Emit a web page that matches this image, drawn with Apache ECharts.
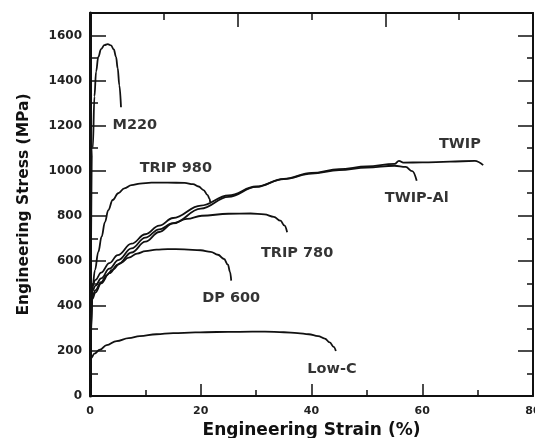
<!DOCTYPE html>
<html>
<head>
<meta charset="utf-8">
<script src="https://cdn.jsdelivr.net/npm/echarts@6/dist/echarts.min.js"></script>
<style>
  html, body { margin: 0; padding: 0; background: #fff; }
  #chart { width: 535px; height: 438px; }
</style>
</head>
<body>
<div id="chart"></div>
<script>
// Engineering stress-strain curves, [strain %, stress MPa]
const m220 = [[0,0],[0.5,1100],[0.8,1330],[1.1,1440],[1.5,1505],[2.0,1540],[2.6,1557],[3.2,1562],[3.8,1556],[4.3,1538],[4.7,1505],[5.0,1455],[5.3,1380],[5.6,1282]];
const trip980 = [[0,0],[0.4,470],[0.9,559],[1.5,640],[2.1,707],[2.7,772],[3.3,825],[4.1,870],[5.1,900],[6.2,922],[7.5,936],[9.0,943],[11.1,947],[14,947],[17.1,946],[18.6,940],[19.6,930],[20.5,914],[21.2,893],[21.6,875],[21.7,860]];
const twip = [[0,0],[0.4,430],[1,460],[2,500],[3.5,545],[5,583],[7.5,637],[10,685],[12.5,728],[15,766],[20,832],[25,884],[30,928],[35,964],[40,990],[45,1007],[50,1019],[55,1030],[55.8,1044],[56.6,1036],[60,1037],[65,1040],[69.5,1044],[71,1025]];
const twipAl = [[0,0],[0.4,490],[1,515],[2,548],[3.5,590],[5,625],[7.5,676],[10,718],[12.5,756],[15,790],[20,845],[25,890],[30,930],[35,963],[40,987],[45,1003],[50,1014],[55,1022],[57,1017],[58.2,998],[59,955]];
const trip780 = [[0,0],[0.4,465],[1,490],[2,522],[3.5,565],[5.1,603],[7.5,655],[10,703],[12.5,740],[15,767],[17.5,786],[20.2,800],[25,809],[29,810],[31.5,806],[33.2,795],[34.4,778],[35.1,757],[35.6,727]];
const dp600 = [[0,0],[0.4,445],[1,470],[2,505],[3,535],[4,560],[5.5,590],[7,614],[8.5,632],[10,643],[12,650],[14,652],[17,651],[20,647],[21.8,640],[23.1,627],[24.2,608],[24.9,583],[25.3,550],[25.5,512]];
const lowC = [[0,0],[0.2,169],[0.8,188],[1.8,206],[3,226],[4.8,244],[7,257],[9,266],[12,274],[15,279],[19,282],[22.9,284],[27,285],[31.6,286],[35,283],[37.5,279],[39.5,274],[41.2,266],[42.4,255],[43.3,238],[44,218],[44.4,200]];

// curve names and the point each name is written at
const curveNames = ['M220', 'TRIP 980', 'TWIP', 'TWIP-Al', 'TRIP 780', 'DP 600', 'Low-C'];
const nameAnchors = [[8.1, 1200], [15.5, 1012], [66.8, 1118], [59.0, 879], [37.4, 635], [25.5, 435], [43.7, 120]];

const xTicks = { min: 0, max: 80, step: 20 };
const yTicks = { min: 0, max: 1700, step: 200 };

const chart = echarts.init(document.getElementById('chart'), null, { renderer: 'canvas' });

const FONT = 'DejaVu Sans';
const INK = '#111';

function curve(data) {
  return {
    type: 'line', data: data, xAxisIndex: 0, yAxisIndex: 0,
    smooth: 0.4, smoothMonotone: 'x', showSymbol: false, silent: true,
    lineStyle: { color: INK, width: 1.8 }
  };
}

chart.setOption({
  animation: false,
  backgroundColor: '#fff',
  grid: { left: 90, right: 2, top: 13, bottom: 42, containLabel: false, outerBoundsMode: 'none' },
  xAxis: [{
    type: 'value', position: 'bottom',
    min: xTicks.min, max: xTicks.max, interval: xTicks.step,
    name: 'Engineering Strain (%)', nameLocation: 'middle', nameGap: 25,
    nameTextStyle: { fontFamily: FONT, fontWeight: 'bold', fontSize: 17, color: INK },
    axisLine: { show: true, onZero: false, lineStyle: { color: INK, width: 2 } },
    axisTick: { show: true, inside: true, length: 12, lineStyle: { color: INK, width: 1.5 } },
    minorTick: { show: true, splitNumber: 2, length: 6, lineStyle: { color: INK, width: 1.5 } },
    axisLabel: { fontFamily: FONT, fontWeight: 'bold', fontSize: 11, color: '#222', margin: 10 },
    splitLine: { show: false }
  }, {
    type: 'value', position: 'top',
    min: 0, max: 6, interval: 2,
    axisLine: { show: true, onZero: false, lineStyle: { color: INK, width: 2 } },
    axisTick: { show: true, inside: true, length: 14, lineStyle: { color: INK, width: 1.5 } },
    minorTick: { show: true, splitNumber: 2, length: 7, lineStyle: { color: INK, width: 1.5 } },
    axisLabel: { show: false },
    splitLine: { show: false }
  }],
  yAxis: [{
    type: 'value', position: 'left',
    min: yTicks.min, max: yTicks.max, interval: yTicks.step,
    name: 'Engineering Stress (MPa)', nameLocation: 'middle', nameGap: 58,
    nameTextStyle: { fontFamily: FONT, fontWeight: 'bold', fontSize: 15.5, color: INK },
    axisLine: { show: true, onZero: false, lineStyle: { color: INK, width: 3 } },
    axisTick: { show: true, inside: true, length: 16, lineStyle: { color: INK, width: 1.5 } },
    minorTick: { show: true, splitNumber: 2, length: 8, lineStyle: { color: INK, width: 1.5 } },
    axisLabel: { fontFamily: FONT, fontWeight: 'bold', fontSize: 12, color: '#222', margin: 8,
      formatter: v => (v > 1600 ? '' : String(v)) },
    splitLine: { show: false }
  }, {
    type: 'value', position: 'right',
    min: yTicks.min, max: yTicks.max, interval: yTicks.step,
    axisLine: { show: true, onZero: false, lineStyle: { color: INK, width: 2 } },
    axisTick: { show: true, inside: true, length: 15, lineStyle: { color: INK, width: 1.5 } },
    minorTick: { show: true, splitNumber: 2, length: 6, lineStyle: { color: INK, width: 1.5 } },
    axisLabel: { show: false },
    splitLine: { show: false }
  }],
  series: [
    curve(m220), curve(trip980), curve(twip), curve(twipAl),
    curve(trip780), curve(dp600), curve(lowC),
    {
      type: 'scatter', xAxisIndex: 0, yAxisIndex: 0, symbolSize: 0, silent: true,
      data: nameAnchors.map((p, i) => ({ value: p, name: curveNames[i] })),
      label: {
        show: true, position: 'inside', formatter: p => p.name,
        fontFamily: FONT, fontWeight: 'bold', fontSize: 14.5, color: '#000'
      }
    }
  ]
});
</script>
</body>
</html>
